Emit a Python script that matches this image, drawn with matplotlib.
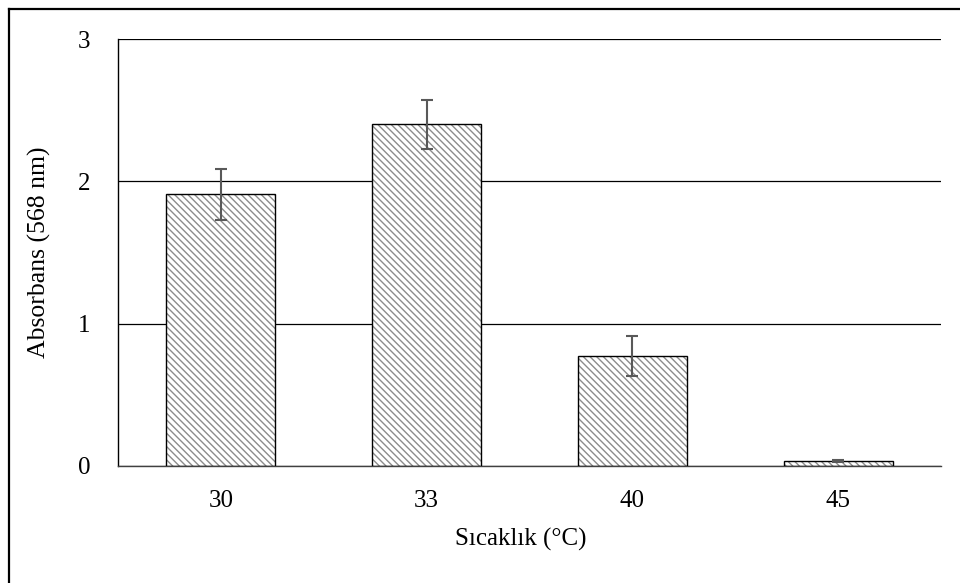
import matplotlib.pyplot as plt
from matplotlib.lines import Line2D

plt.rcParams['font.family'] = ['Liberation Serif', 'DejaVu Serif']
plt.rcParams['hatch.linewidth'] = 1.0

categories = ['30', '33', '40', '45']
absorbance = [1.91, 2.40, 0.77, 0.035]
errors = [0.18, 0.17, 0.14, 0.006]

fig = plt.figure(figsize=(9.6, 5.83), dpi=100)
ax = fig.add_axes([0.1229, 0.2007, 0.8573, 0.7324])

x = range(len(categories))
# hatched fill first, black outline on top
ax.bar(x, absorbance, width=0.53, color='white', edgecolor='#8c8c8c',
       hatch='\\' * 5, linewidth=0, zorder=2)
ax.bar(x, absorbance, width=0.53, fill=False, edgecolor='black',
       linewidth=1.0, zorder=3)
ax.errorbar(x, absorbance, yerr=errors, fmt='none', ecolor='#595959',
            elinewidth=1.5, capsize=4.5, capthick=1.5, zorder=4)

ax.set_xlim(-0.5, 3.5)
ax.set_ylim(0, 3)
ax.set_yticks([0, 1, 2, 3])
ax.set_xticks(list(x))
ax.set_xticklabels(categories)
ax.yaxis.grid(True, color='black', linewidth=0.9, zorder=0)
ax.set_axisbelow(True)

for s in ['top', 'right']:
    ax.spines[s].set_visible(False)
ax.spines['left'].set_linewidth(1.0)
ax.spines['bottom'].set_linewidth(1.0)
ax.spines['bottom'].set_color('#404040')
ax.tick_params(axis='both', length=0, labelsize=18)
ax.tick_params(axis='y', pad=20)
ax.tick_params(axis='x', pad=17)

ax.set_xlabel('Sıcaklık (°C)', fontsize=18)
ax.xaxis.set_label_coords(0.489, -0.145)
ax.set_ylabel('Absorbans (568 nm)', fontsize=18.5, labelpad=19)

# outer chart border (left and top edges visible)
fig.add_artist(Line2D([9 / 960, 9 / 960], [0, 1 - 9 / 583], transform=fig.transFigure,
                      color='black', linewidth=1.6))
fig.add_artist(Line2D([9 / 960, 1], [1 - 9 / 583, 1 - 9 / 583], transform=fig.transFigure,
                      color='black', linewidth=1.6))

fig.savefig('out.png', dpi=100)
